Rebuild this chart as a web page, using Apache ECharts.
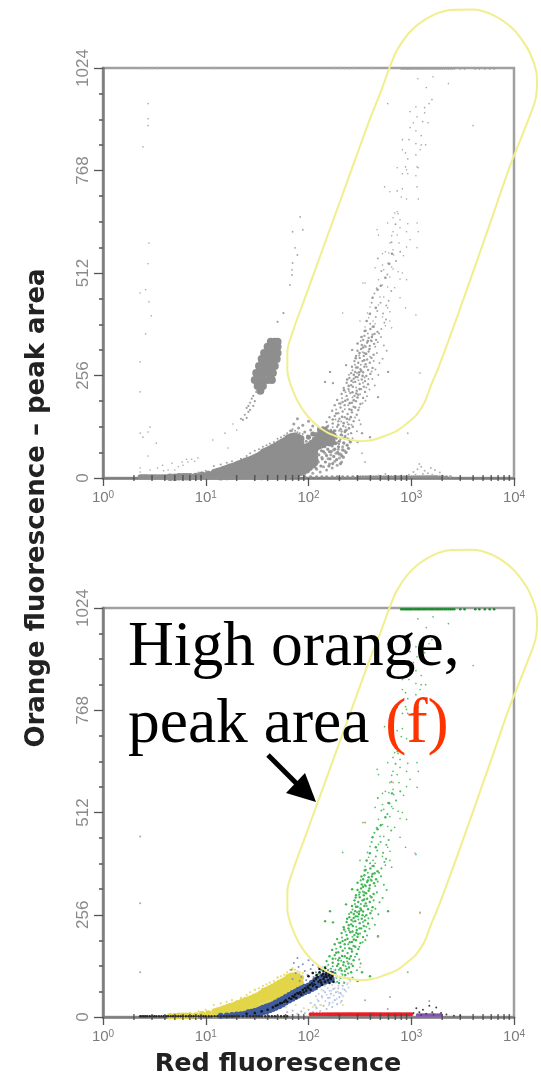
<!DOCTYPE html>
<html><head><meta charset="utf-8">
<style>html,body{margin:0;padding:0;background:#fff}#c{width:541px;height:1081px}</style>
<script src="https://cdn.jsdelivr.net/npm/echarts@6/dist/echarts.min.js"></script>
</head><body><div id="c"></div>
<script>
// --- tick labels ---
const xTickExponents = ['0','1','2','3','4'];
const xMinorTicks = [2,3,4,5,6,7,8,9,20,30,40,50,60,70,80,90,200,300,400,500,600,700,800,900,2000,3000,4000,5000,6000,7000,8000,9000];
const yTicks = [0,256,512,768,1024];

// --- gate outline: [decades of red, orange]; it runs past the plot frame ---
const gate = [[2.521,92],[2.307,102],[2.131,125],[1.976,165],[1.869,215],[1.81,270],[1.81,315],[1.869,370],[1.976,445],[2.083,520],[2.19,595],[2.297,670],[2.404,745],[2.511,820],[2.618,895],[2.735,970],[2.813,1025],[2.89,1070],[3.036,1120],[3.231,1155],[3.426,1169],[3.62,1170],[3.815,1158],[4.01,1125],[4.156,1078],[4.235,1033],[4.262,995],[4.245,945],[4.156,882],[3.99,775],[3.815,647],[3.64,520],[3.49,412],[3.295,277],[3.221,232],[3.153,187],[3.075,157],[2.988,137],[2.881,117],[2.764,105],[2.647,95],[2.521,92]];

// --- populations on both plots ---
const bandUpper = [[1160,997],[1630,1002],[2300,985],[1400,975],[1590,945],[1490,935],[590,935],[1110,927],[1350,925],[973,915],[1350,912],[1140,902],[1290,890],[1460,887],[1050,887],[973,875],[1110,867],[1250,855],[820,845],[950,845],[1110,835],[1250,832],[1380,832],[820,820],[880,812],[1110,807],[1220,820],[925,797],[730,775],[880,777],[1140,777],[1170,775],[900,770],[820,760],[925,760],[1110,755],[550,727],[620,715],[730,717],[820,722],[1140,727],[800,702],[900,697],[1170,697],[4000,880],
[730,665],[690,662],[745,660],[665,650],[778,645],[590,637],[925,635],[1140,637],[465,620],[480,607],[778,625],[900,615],[1170,615],[665,615],[645,605],[730,607],[973,595],[620,587],[760,587],[900,577],[1140,575],[665,570],[560,565],[525,560],[605,562],[675,557],[840,555],[525,532],[445,525],[540,520],[645,527],[665,522],[745,515],[820,512],[355,487],[480,495],[620,502],[778,497],[900,495],[525,482],[590,477],[690,475],[778,450],[497,452],[540,452],[480,432],[397,427],[590,425],[880,425],[215,412],[375,412],[620,415],[1110,407],[385,400],[425,392],[525,402],[620,392],[317,392],[445,385],[355,377],[560,380],[645,375],[338,487],[1218,262]];
const bandLower = [[360,368],[400,372],[440,360],[470,365],[350,355],[385,350],[420,358],[455,345],[340,345],[372,338],[410,342],[330,332],[360,328],[395,330],[435,335],
[300,318],[325,322],[350,312],[385,316],[430,308],[290,305],[315,300],[345,305],[372,296],[410,300],[280,292],[305,288],[335,292],[360,284],[395,288],
[265,278],[290,276],[320,272],[350,278],[380,270],[420,275],[260,262],[285,265],[310,258],[340,264],[365,255],[400,260],[250,250],[275,248],[300,252],[330,246],[355,242],
[235,238],[260,232],[285,240],[315,235],[345,228],[380,234],[220,225],[245,222],[270,228],[295,218],[325,222],[355,215],[210,210],[235,205],[255,212],[280,205],[305,208],[340,200],
[190,195],[215,190],[240,196],[265,188],[290,192],[320,185],[180,182],[205,176],[225,182],[250,172],[275,178],[305,170],[170,168],[195,162],[215,166],[240,160],[265,164],[295,158],
[160,152],[180,155],[200,148],[225,152],[250,146],[275,142],[150,140],[172,136],[195,142],[218,130],[245,134],[270,128],[145,125],[165,120],[190,128],[210,116],[235,120],[260,112],
[140,108],[160,104],[182,110],[205,98],[228,105],[250,95],[300,90],[150,92],[175,88],[198,85],[222,86],
[162,265],[145,240],[173,237],[266,320],[232,282],[595,265],[475,202],[332,112],[397,102]];
const bandExtra = [[262,133],[284,151],[312,144],[230,127],[198,118],[172,127],[153,112],[243,109],[268,99],[187,98],[214,106],[296,117],[322,134],[208,141],[238,139],[183,146],[156,131],[133,117],[125,108],[142,99],[118,103],
[226,172],[197,186],[243,182],[268,201],[186,171],[312,176],[336,187],[358,193],[212,199],[248,217],[229,214],[291,226],[318,209],[371,204],[392,221],[272,239],[306,244],[339,238],[365,226],[418,247],[442,231],
[248,258],[268,269],[297,262],[323,283],[352,251],[383,247],[412,266],[448,271],[478,257],[283,283],[311,306],[338,314],[369,278],[398,303],[431,292],[463,312],[491,287],[526,298],[322,342],[351,331],[378,361],[402,344],[446,328],[472,339],[508,352],[541,331],[576,318],
[398,385],[418,378],[452,402],[486,361],[512,372],[548,388],[467,417],[503,438],[532,411],[568,396],[603,443],[412,438],[438,461],[461,474],[572,431],[639,467],[586,508],[512,517],[473,548],[596,536],[712,542],[782,565],[642,589],[703,634]];
const bandCore = [[182,118],[205,122],[226,115],[248,124],[172,146],[195,133],[220,137],[258,152],[186,161],[212,153],[236,148],[262,170],[285,176],[204,186],[228,193],[252,187],[276,194],[300,201],[222,219],[246,230],[268,214],[292,211],[314,222],[238,246],[262,243],[288,252],[312,264],[336,255],[276,258],[300,276],[326,268],[348,294],[288,299],[314,312],[340,326],[364,310],[392,322],[300,336],[328,352],[352,367],[378,342],[414,352],[368,392],[396,410],[430,378],[452,425],[420,450],[470,470],[505,480],[560,500],[610,535],[650,560]];
const topRail = [800,830,860,890,920,950,980,1010,1050,1090,1130,1170,1210,1260,1310,1360,1410,1470,1530,1590,1650,1720,1790,1860,1940,2020,2110,2200,2300,2400,2500,2620,3000,3300,4200,4600,5200,5800,6400];
const yellowMass = [[4.5,2],[5,2],[5.5,3],[6,3],[6.5,3],[7,3],[8,4],[9.2,7],[10.6,9],[12.2,6],[12.2,14],[13.1,7],[13.1,16],[14,8],[14,18],[15,9],[15,21],[16.1,10],[16.1,24],[17.2,11],[17.2,27],[18.5,12],[18.5,22],[18.5,29],[19.8,13],[19.8,24],[19.8,32],[21.2,14],[21.2,25],[21.2,35],[22.7,15],[22.7,27],[22.7,38],[24.3,16],[24.3,29],[24.3,41],[26,17],[26,31],[26,44],[28,18],[28,33],[28,47],[30,20],[30,35],[30,50],[32,22],[32,38],[32,54],[34.3,24],[34.3,41],[34.3,58],[36.7,27],[36.7,44],[36.7,54],[36.7,65],[39.4,30],[39.4,47],[39.4,58],[39.4,68],[42.2,33],[42.2,50],[42.2,62],[42.2,72],[45.2,37],[45.2,53],[45.2,66],[45.2,76],[48.4,41],[48.4,57],[48.4,70],[48.4,80],[51.9,45],[51.9,60],[51.9,73],[51.9,85],[55.6,50],[55.6,64],[55.6,78],[55.6,89],[59.5,55],[59.5,68],[59.5,82],[59.5,93],[63.8,60],[63.8,73],[63.8,87],[63.8,100],[68.3,66],[68.3,78],[68.3,90],[68.3,103],[73.2,72],[73.2,84],[73.2,96],[73.2,104],[78.4,78],[78.4,90],[78.4,102],[84,85],[84,98]];
const massFeather = [[12,30],[14,34],[16,38],[18,42],[20,40],[22,48],[25,55],[27,62],[30,68],[33,72],[36,78],[39,82],[42,86],[46,90],[50,98],[54,102],[58,106],[62,112],[66,118],[70,122],[74,118],[78,114],[82,112],[88,110],[16,30],[24,48],[29,56],[34,64],[10,18],[8.5,14],[7,10]];
const blueMass = [[14,3],[16,4],[18,5],[20,6],[22,7],[24,8],[26,7],[26,12],[28,7],[28,13],[30,8],[30,15],[32,9],[32,17],[34,10],[34,20],[36,11],[36,23],[39,14],[39,26],[42,17],[42,29],[45,20],[45,32],[48,23],[48,36],[52,27],[52,41],[56,31],[56,45],[60,36],[60,50],[65,41],[65,55],[70,46],[70,60],[75,50],[75,64],[80,54],[80,68],[86,58],[86,72],[92,62],[92,76],[100,65],[100,79],[108,70],[108,86],[116,74],[116,92],[125,80],[125,96],[135,85],[135,100],[145,88],[145,104],[155,92],[155,106],[168,94],[168,108]];
const blackCore = [[25,8],[30,10],[35,14],[40,18],[45,24],[48,28],[50,30],[53,34],[55,35],[58,38],[60,42],[62,38],[65,47],[68,45],[70,52],[72,50],[74,56],[76,48],[78,60],[80,58],[83,62],[85,56],[88,68],[90,62],[93,72],[95,66],[98,76],[100,72],[103,80],[105,68],[108,84],[110,78],[113,90],[115,82],[118,96],[120,75],[123,100],[125,88],[128,112],[130,92],[133,86],[135,80],[138,108],[140,95],[143,100],[145,88],[148,106],[150,100],[153,114],[155,92],[158,104],[160,108],[163,98],[165,95],[168,110],[170,102],[175,88],[110,110],[120,105],[140,115],[150,112],[135,104],[160,85],[100,102],[128,120],[145,122]];
const upperFringe = [[70,95],[75,110],[68,118],[80,125],[72,135],[78,148],[85,100],[92,115],[88,132],[98,105],[105,120],[100,142],[112,100],[118,112],[110,130],[122,98],[130,108],[125,125],[135,118],[140,95],[148,105],[155,118],[160,100],[168,112],[175,98],[185,105],[190,88],[150,85],[130,85],[115,88],[95,92],[82,90]];
const lowerFringe = [[62,12],[70,16],[78,8],[85,14],[92,10],[100,18],[110,12],[120,22],[130,15],[140,28],[150,20],[160,35],[170,25],[180,42],[190,32],[200,50],[210,40],[125,40],[135,52],[145,62],[155,48],[165,58],[175,70],[185,62],[195,72],[205,60],[215,78],[225,68],[115,30],[105,35]];
const mottledRight = [[118,25],[122,44],[126,58],[120,70],[128,82],[132,30],[136,48],[140,66],[144,78],[130,104],[138,126],[146,40],[150,56],[154,72],[148,92],[158,30],[162,48],[166,66],[170,80],[165,118],[172,36],[176,54],[180,72],[184,86],[178,118],[188,46],[192,64],[196,78],[200,92],[205,36],[210,56],[215,70],[220,88],[225,100],[232,64],[238,82],[245,74],[255,90],[118,52],[124,92],[134,68],[142,108],[152,128],[160,66],[172,98],[186,100],[198,60],[208,108],[218,52],[228,118],[240,98]];
const baseRailX = [2.3,2.4,2.5,2.6,2.7,2.85,3,3.15,3.3,3.5,3.7,3.9,4.1,4.3,4.55,4.8,5.1,5.4,5.7,6,6.4,6.8,7.2,7.6,8,8.5,9,9.5,10,10.7,11.4,12.2,13,14,15,16,17,18,19,20,21,23,25,27,29,31,33,35,38,41,44,47,50,54,58,62];

// --- only on the upper plot ---
const blob = [[34,218],[32,230],[36,230],[30,245],[33,245],[36.5,245],[40,245],[44,245],[31,262],[34,262],[37,262],[41,262],[45,262],[33,280],[36,280],[39.5,280],[43,280],[47,280],[35,297],[38,297],[41.5,297],[45,297],[49,297],[37,312],[40,312],[43.5,312],[47,312],[50,312],[40,328],[43,328],[46,328],[50,328],[43,340],[47,340],[50,340]];
const blobTail = [[31,215],[29,205],[28,198],[27,188],[29,180],[25,175],[26,165],[24,158],[25,150],[23,145],[22,148],[27,170],[30,192],[26,180],[50,390],[57,412]];
const sideBranch = [[83,652],[70,615],[88,620],[74,575],[78,557],[70,537],[69,520],[69,507],[66,482]];
const leftStrays = [[2.75,935],[2.75,897],[2.75,880],[2.45,827],[2.8,587],[2.75,535],[2.3,462],[2.6,470],[2.8,440],[2.95,405],[2.6,360],[2.3,290],[2.3,215],[2.87,127],[2.3,112],[2.45,102],[2.75,115],[3.3,87],[2.75,55],[2.3,25],[2.3,15],[2.87,20],[3.8,32],[4.7,37],[5.9,40],[7.3,47],[8.4,50],[6,32],[6.7,40],[4.3,20],[3.4,25],[5,20],[6.5,47],[7.8,42],[5.4,28],[3.9,18],[18.4,135],[15.4,112],[20,120],[11.7,95],[16.4,75]];
const lowerMass = [[30,3],[35,3],[40,4],[45,4],[50,5],[50,14],[56,6],[56,16],[60,8],[60,20],[60,32],[66,8],[66,20],[66,32],[72,10],[72,22],[72,34],[78,12],[78,24],[78,38],[84,14],[84,28],[84,42],[90,18],[90,32],[90,46],[96,20],[96,34],[96,50],[102,26],[102,40],[102,54],[108,32],[108,46],[108,58],[115,38],[115,50],[115,62]];
const rightRailX = [66,72,80,92,105,120,135,150,170,190,215,240,270,300,320,340,360,380,405,430,455,480,510,540,570,600,640,680,720,760,800,850,900,950,1000,1050,1100,1150,1200,1250,1300,1350,1400,1450,1500,1550,1600,1650,1700,1750,1800,1900,2050,2200,2400];
const rightCluster = [[1050,15],[1150,22],[1250,28],[1350,18],[1450,12],[1550,25],[1700,20],[1900,14],[1100,8],[1300,10],[1600,8],[2000,6],[800,6],[950,8],[560,10],[480,6],[2400,4],[1200,35],[925,112],[332,62],[355,40]];
const topRailLeft = [2.3,2.5,2.7,3,3.4,12,180,200,225,250,270,340,420];

// --- only on the lower plot ---
const redRailX = [105,112,120,128,136,144,152,160,168,176,184,192,200,210,220,230,240,250,260,270,282,295,308,320,335,350,365,380,395,410,425,440,460,480,500,520,545,570,595,620,650,680,710,740,770,800,840,880,920,960,1000];
const purpleRailX = [1150,1200,1250,1300,1350,1400,1460,1520,1580,1650,1720,1800,1880,1950];
const blackRight = [[1050,10],[1120,22],[1200,12],[1300,18],[1400,8],[1500,28],[1600,12],[1750,24],[1950,10],[2200,6],[2600,3],[3000,3],[1250,5],[1650,6]];
const grayStrays = [[2.3,452],[2.3,285],[2.3,112],[925,112],[355,42],[590,20],[620,50],[1500,40]];
const redStrays = [[1088,410],[1218,260],[475,200],[355,487],[317,125],[590,932],[665,587]];
const yellowStrays = [[60,25],[75,30],[90,22],[110,25],[130,30],[240,85],[215,30],[22,48],[30,68],[50,100],[70,118]];

const railPts = (xs, y) => xs.map(x => [x, y]);

function dots(g, data, color, size, opacity, z) {
  return {type:'scatter', xAxisIndex:g, yAxisIndex:g, data, symbol:'circle', symbolSize:size, clip:false, silent:true, z:z||2,
    itemStyle:{color, opacity:opacity==null?1:opacity}, animation:false};
}
const xAx = g => ({
  type:'log', logBase:10, min:1, max:10000, gridIndex:g,
  axisLine:{show:true, onZero:false, lineStyle:{color:'#7d7d7d', width:2.5}},
  axisTick:{show:true, length:8, lineStyle:{color:'#555', width:1.3}},
  minorTick:{show:false}, splitLine:{show:false},
  axisLabel:{margin:12, hideOverlap:false, showMinLabel:true, showMaxLabel:true,
    formatter:v => '{b|10}{s|' + xTickExponents[Math.round(Math.log10(v))] + '}',
    rich:{b:{fontFamily:'Liberation Sans', fontSize:15, color:'#7b7b7b'}, s:{fontFamily:'Liberation Sans', fontSize:10, color:'#7b7b7b', verticalAlign:'top', lineHeight:12}}}
});
const gateXAx = g => ({type:'value', min:0, max:4.3, gridIndex:g, show:false, splitLine:{show:false}});
const gateYAx = g => ({type:'value', min:0, max:1024, gridIndex:g, show:false, splitLine:{show:false}});
const yAx = g => ({
  type:'value', min:0, max:1024, interval:256, gridIndex:g,
  axisLine:{show:true, lineStyle:{color:'#7d7d7d', width:2.5}},
  axisTick:{show:true, length:9, lineStyle:{color:'#555', width:1.3}},
  minorTick:{show:true, splitNumber:4, length:4, lineStyle:{color:'#555', width:1.5}},
  splitLine:{show:false}, minorSplitLine:{show:false},
  axisLabel:{rotate:90, margin:11, fontFamily:'Liberation Sans', fontSize:17, color:'#8a8a8a', showMinLabel:true, showMaxLabel:true,
    formatter:v => String(yTicks[yTicks.indexOf(v)])}
});
const gateSeries = g => ({type:'line', xAxisIndex:g, yAxisIndex:g, data:gate, smooth:0.3, showSymbol:false, clip:false, silent:true, z:6,
  lineStyle:{color:'#f1ee8e', width:2}, animation:false});
const minorTickSeries = g => ({type:'scatter', xAxisIndex:g, yAxisIndex:g, data:railPts(xMinorTicks,0), symbol:'rect', symbolSize:[1.5,6], clip:false, silent:true, z:5,
  itemStyle:{color:'#444'}, animation:false});

const GRAY='#8e8e8e', DOT='#a6a6a6';
const series = [
  // upper plot
  dots(0, bandUpper, DOT, 1.6),
  dots(0, bandLower, '#a0a0a0', 2.4),
  dots(0, bandExtra, '#a8a8a8', 2),
  dots(0, bandCore, '#9a9a9a', 2.6),
  dots(0, leftStrays, DOT, 1.6),
  dots(0, sideBranch, DOT, 1.8),
  dots(0, blob, GRAY, 8),
  dots(0, blobTail, '#a0a0a0', 2.2),
  dots(0, upperFringe, '#a0a0a0', 3),
  dots(0, lowerFringe, '#a8a8a8', 3),
  dots(0, mottledRight, '#979797', 3.2),
  dots(0, massFeather, '#a0a0a0', 2),
  dots(0, lowerMass, GRAY, 7),
  dots(0, yellowMass, GRAY, 7.5),
  dots(0, blueMass, GRAY, 7.5),
  dots(0, blackCore, GRAY, 5),
  dots(0, railPts(baseRailX,3), GRAY, 5),
  dots(0, railPts(rightRailX,3), '#8f8f8f', 3.2),
  dots(0, rightCluster, '#b4b4b4', 2),
  dots(0, railPts(topRail,1022), '#9c9c9c', 2),
  dots(0, railPts(topRailLeft,1022), '#b4b4b4', 1.6),
  minorTickSeries(0),
  // lower plot
  dots(1, bandUpper, '#58bf68', 1.7),
  dots(1, bandLower, '#3fb554', 2.4),
  dots(1, bandExtra, '#52bd65', 2.1),
  dots(1, bandCore, '#3fb554', 2.4),
  dots(1, lowerFringe, '#b2c0e0', 2.2),
  dots(1, mottledRight, '#c6d0e6', 2),
  dots(1, yellowStrays, '#ece28a', 2.2),
  dots(1, massFeather, '#e6dc70', 2.2),
  dots(1, yellowMass, '#e2d548', 6.5, 1, 3),
  dots(1, upperFringe, '#7f8fc0', 2, 1, 3),
  dots(1, blueMass, '#3f5c9e', 6, 1, 4),
  dots(1, blackCore, '#15151c', 2.6, 1, 4),
  dots(1, railPts(baseRailX,2), '#2a2a2a', 2.4, 1, 4),
  dots(1, railPts(redRailX,7), '#ee1c24', 4, 1, 3),
  dots(1, railPts(purpleRailX,5), '#8a50c0', 3.4, 1, 3),
  dots(1, blackRight, '#444', 2, 1, 4),
  dots(1, grayStrays, '#a8a8a8', 2),
  dots(1, redStrays, '#f2a08c', 1.8),
  dots(1, railPts(topRail,1021), '#1f8a30', 2.6),
  minorTickSeries(1),
  // gates, on their own frames that reach past the plots
  gateSeries(2), gateSeries(3)
];

const chart = echarts.init(document.getElementById('c'), null, {renderer:'canvas', width:541, height:1081});
chart.setOption({
  animation:false, backgroundColor:'#fff',
  grid:[
    {left:103, top:68, width:411, height:410, show:true, borderColor:'#a0a0a0', borderWidth:2.5, backgroundColor:'transparent'},
    {left:103, top:608, width:411, height:409, show:true, borderColor:'#a0a0a0', borderWidth:2.5, backgroundColor:'transparent'},
    {left:103, top:68, width:441.8, height:410},
    {left:103, top:608, width:441.8, height:409}
  ],
  xAxis:[xAx(0), xAx(1), gateXAx(2), gateXAx(3)],
  yAxis:[yAx(0), yAx(1), gateYAx(2), gateYAx(3)],
  series,
  graphic:[
    {type:'text', x:37, y:508, rotation:Math.PI/2, z:20, style:{text:'Orange fluorescence – peak area', fontFamily:'DejaVu Sans', fontWeight:'bold', fontSize:26, fill:'#222', textAlign:'center', textVerticalAlign:'middle'}},
    {type:'text', x:278, y:1064, z:20, style:{text:'Red fluorescence', fontFamily:'DejaVu Sans', fontWeight:'bold', fontSize:25.5, fill:'#222', textAlign:'center', textVerticalAlign:'middle'}},
    {type:'text', x:128, y:648, z:20, style:{text:'High orange,', fontFamily:'Liberation Serif', fontSize:63.5, fill:'#000', textAlign:'left', textVerticalAlign:'middle'}},
    {type:'text', x:128, y:725, z:20, style:{text:'{a|peak area }{b|(f)}', rich:{a:{fontFamily:'Liberation Serif', fontSize:63.5, fill:'#000', color:'#000'}, b:{fontFamily:'Liberation Serif', fontSize:63.5, fill:'#ff3300', color:'#ff3300'}}, textAlign:'left', textVerticalAlign:'middle'}},
    {type:'line', z:20, shape:{x1:268, y1:755, x2:300, y2:787}, style:{stroke:'#000', lineWidth:5}},
    {type:'polygon', z:20, shape:{points:[[316,802],[305,773],[286,793]]}, style:{fill:'#000'}}
  ]
});
</script></body></html>
